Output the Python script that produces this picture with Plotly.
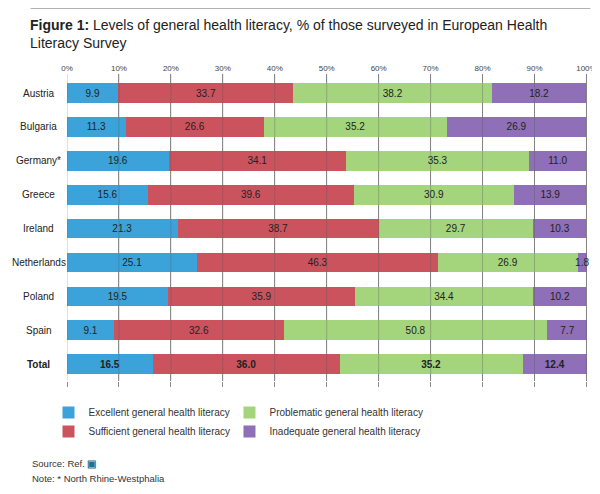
import plotly.graph_objects as go

countries = ["Austria", "Bulgaria", "Germany*", "Greece", "Ireland", "Netherlands", "Poland", "Spain", "Total"]
excellent = [9.9, 11.3, 19.6, 15.6, 21.3, 25.1, 19.5, 9.1, 16.5]
sufficient = [33.7, 26.6, 34.1, 39.6, 38.7, 46.3, 35.9, 32.6, 36.0]
problematic = [38.2, 35.2, 35.3, 30.9, 29.7, 26.9, 34.4, 50.8, 35.2]
inadequate = [18.2, 26.9, 11.0, 13.9, 10.3, 1.8, 10.2, 7.7, 12.4]
x_ticks = [0, 10, 20, 30, 40, 50, 60, 70, 80, 90, 100]

series = [
    ("Excellent general health literacy", excellent, "#3BA3DA", "legend"),
    ("Sufficient general health literacy", sufficient, "#CA535D", "legend"),
    ("Problematic general health literacy", problematic, "#A4D57C", "legend2"),
    ("Inadequate general health literacy", inadequate, "#8E6FB8", "legend2"),
]

BODY = "Liberation Sans, Arial, sans-serif"

# page body has an 8px margin: work in reference-pixel coordinates and shift
OFF = 8
W, H = 600 - OFF, 494 - OFF
XMAX = 100.3
L = 66.5
R = L + 519.5 * XMAX / 100
T, B = 74, 381

def xp(px):
    return (px - L) / (R - L)

def yp(py):
    return (B - py) / (B - T)

fig = go.Figure()
for name, vals, color, lg in series:
    texts = [("<b>%.1f</b>" % v) if c == "Total" else ("%.1f" % v) for c, v in zip(countries, vals)]
    fig.add_trace(go.Bar(
        y=countries, x=vals, name=name, orientation="h",
        marker=dict(color=color, line=dict(width=0)),
        text=texts, textposition="inside", insidetextanchor="middle", textangle=0,
        textfont=dict(size=10, color="#222222", family=BODY),
        constraintext="none", cliponaxis=False,
        legend=lg,
    ))

fig.update_layout(
    width=W, height=H,
    barmode="stack", bargap=0.42,
    paper_bgcolor="white", plot_bgcolor="white",
    margin=dict(l=L - OFF, r=600 - R, t=T - OFF, b=494 - B, pad=0),
    showlegend=True,
    xaxis=dict(
        range=[0, XMAX], side="top", tickvals=x_ticks,
        ticktext=["%d%%" % v for v in x_ticks],
        tickfont=dict(size=8, color="#444444", family=BODY),
        showgrid=True, gridcolor="#9a9a9a", gridwidth=1,
        zeroline=False, showline=False, ticks="", automargin=False,
        fixedrange=True,
    ),
    xaxis2=dict(
        range=[0, XMAX], overlaying="x", side="bottom", tickvals=x_ticks,
        showticklabels=False, ticks="outside", ticklen=5, tickcolor="#8a8a8a",
        showgrid=False, zeroline=False, showline=False, automargin=False,
    ),
    yaxis=dict(
        categoryorder="array", categoryarray=countries, autorange="reversed",
        showticklabels=False, ticks="", showgrid=False, zeroline=False, showline=False,
        automargin=False,
    ),
    legend=dict(
        x=xp(48), y=yp(398), xanchor="left", yanchor="top", orientation="v",
        font=dict(size=10, color="#333333", family=BODY), tracegroupgap=0,
        traceorder="normal", itemwidth=30, bgcolor="rgba(0,0,0,0)",
    ),
    legend2=dict(
        x=xp(229), y=yp(398), xanchor="left", yanchor="top", orientation="v",
        font=dict(size=10, color="#333333", family=BODY), tracegroupgap=0,
        traceorder="normal", itemwidth=30, bgcolor="rgba(0,0,0,0)",
    ),
)

# dummy trace to activate bottom tick axis
fig.add_trace(go.Scatter(x=[0, 100], y=[countries[0], countries[0]], xaxis="x2",
                         mode="markers", marker=dict(opacity=0), showlegend=False,
                         hoverinfo="skip"))

# category labels, centred in the left gutter
for c in countries:
    fig.add_annotation(
        xref="paper", yref="y", x=xp(38), y=c, xanchor="center", yanchor="middle",
        showarrow=False, text=("<b>%s</b>" % c) if c == "Total" else c,
        font=dict(size=10, color="#222222", family=BODY),
    )

# grid lines faintly visible over the bars
for v in x_ticks:
    fig.add_shape(type="line", xref="x", yref="paper", x0=v, x1=v, y0=0, y1=1,
                  line=dict(color="rgba(90,90,90,0.35)", width=1), layer="above")

# top rule
fig.add_shape(type="line", xref="paper", yref="paper",
              x0=xp(30), x1=xp(590), y0=yp(8), y1=yp(8),
              line=dict(color="#666666", width=1.2))

fig.add_annotation(
    xref="paper", yref="paper", x=xp(27), y=yp(15),
    xanchor="left", yanchor="top", align="left", showarrow=False,
    text="<b>Figure 1:</b> Levels of general health literacy, % of those surveyed in European Health<br>Literacy Survey",
    font=dict(size=14, color="#222222", family=BODY),
)

fig.add_annotation(
    xref="paper", yref="paper", x=xp(29), y=yp(456),
    xanchor="left", yanchor="top", align="left", showarrow=False,
    text="Source: Ref. <span style='color:#1f6f96'><b>&#9635;</b></span>",
    font=dict(size=9.5, color="#333333", family=BODY),
)
fig.add_annotation(
    xref="paper", yref="paper", x=xp(29), y=yp(471),
    xanchor="left", yanchor="top", align="left", showarrow=False,
    text="Note: * North Rhine-Westphalia",
    font=dict(size=9.5, color="#333333", family=BODY),
)

fig.write_html("out.html")
